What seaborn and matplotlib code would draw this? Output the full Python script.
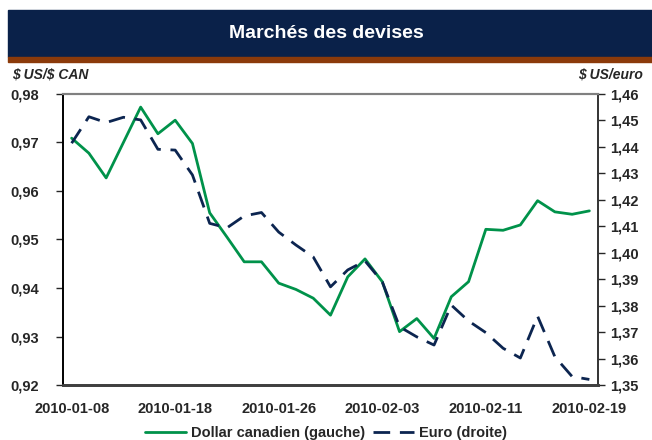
import pandas as pd
import numpy as np
import seaborn as sns
import matplotlib.pyplot as plt
from matplotlib.patches import Rectangle
from matplotlib.ticker import FuncFormatter, FixedLocator

# business days shown on the chart
dates = ["2010-01-08",
         "2010-01-11", "2010-01-12", "2010-01-13", "2010-01-14", "2010-01-15",
         "2010-01-18", "2010-01-19", "2010-01-20", "2010-01-21", "2010-01-22",
         "2010-01-25", "2010-01-26", "2010-01-27", "2010-01-28", "2010-01-29",
         "2010-02-01", "2010-02-02", "2010-02-03", "2010-02-04", "2010-02-05",
         "2010-02-08", "2010-02-09", "2010-02-10", "2010-02-11", "2010-02-12",
         "2010-02-15", "2010-02-16", "2010-02-17", "2010-02-18", "2010-02-19"]

cad = [0.9709, 0.9678, 0.9627, 0.9700, 0.9773, 0.9718, 0.9746, 0.9698,
       0.9555, 0.9505, 0.9454, 0.9454, 0.9410, 0.9397, 0.9379, 0.9344,
       0.9423, 0.9460, 0.9413, 0.9310, 0.9337, 0.9296, 0.9382, 0.9413,
       0.9521, 0.9519, 0.9530, 0.9580, 0.9557, 0.9552, 0.9559]

eur = [1.4414, 1.4514, 1.4492, 1.4512, 1.4502, 1.4391, 1.4388, 1.4294,
       1.4111, 1.4094, 1.4139, 1.4152, 1.4078, 1.4029, 1.3984, 1.3871,
       1.3935, 1.3969, 1.3890, 1.3720, 1.3682, 1.3651, 1.3802, 1.3742,
       1.3698, 1.3639, 1.3602, 1.3760, 1.3607, 1.3532, 1.3521]

label_dates = ["2010-01-08", "2010-01-18", "2010-01-26",
               "2010-02-03", "2010-02-11", "2010-02-19"]

GREEN = "#00924A"
NAVY = "#0C2550"

sns.set_style("white")
plt.rcParams["font.family"] = ["Liberation Sans", "DejaVu Sans"]

df = pd.DataFrame({"pos": np.arange(len(dates)), "date": dates,
                   "cad": cad, "eur": eur})

fig = plt.figure(figsize=(6.52, 4.4), dpi=100)
ax = fig.add_axes([63 / 652, 1 - 385 / 440, 535 / 652, 291 / 440])
ax2 = ax.twinx()

sns.lineplot(data=df, x="pos", y="cad", ax=ax, color=GREEN, lw=2,
             label="Dollar canadien (gauche)", legend=False)
sns.lineplot(data=df, x="pos", y="eur", ax=ax2, color=NAVY, lw=2,
             label="Euro (droite)", legend=False)
ax2.lines[0].set_dashes([6, 3.5])

ax.set_xlim(-0.5, len(dates) - 0.5)
ax.set_ylim(0.92, 0.98)
ax2.set_ylim(1.35, 1.46)
ax.set_yticks(np.arange(0.92, 0.9801, 0.01))
ax2.set_yticks(np.arange(1.35, 1.4601, 0.01))

comma = FuncFormatter(lambda v, p: f"{v:.2f}".replace(".", ","))
ax.yaxis.set_major_formatter(comma)
ax2.yaxis.set_major_formatter(comma)

xpos = [dates.index(d) for d in label_dates]
ax.xaxis.set_major_locator(FixedLocator(xpos))
ax.set_xticklabels(label_dates)

ax.set_xlabel("")
ax.set_ylabel("")
ax2.set_ylabel("")

ax.tick_params(axis="x", length=0, pad=12, labelsize=10.5)
ax.tick_params(axis="y", left=True, length=5, width=1, pad=12, labelsize=10.5)
ax2.tick_params(axis="y", right=True, length=5, width=1, pad=4, labelsize=10.5)
for lab in ax.get_xticklabels() + ax.get_yticklabels() + ax2.get_yticklabels():
    lab.set_fontweight("bold")

for a in (ax, ax2):
    a.spines["left"].set_color("black")
    a.spines["right"].set_color("#333333")
    a.spines["top"].set_color("#808080")
    a.spines["bottom"].set_color("#404040")
    a.spines["top"].set_linewidth(1.5)
    a.spines["bottom"].set_linewidth(2)
    a.spines["left"].set_linewidth(1.2)
    a.spines["right"].set_linewidth(1.2)

# title banner
fig.patches.append(Rectangle((8 / 652, 1 - 57 / 440), 1, 47 / 440,
                             transform=fig.transFigure, color="#0A2149", zorder=0))
fig.patches.append(Rectangle((8 / 652, 1 - 62 / 440), 1, 5 / 440,
                             transform=fig.transFigure, color="#8B3A0A", zorder=0))
fig.text(0.5, 1 - 34 / 440, "Marchés des devises", color="white",
         fontsize=14, fontweight="bold", ha="center", va="center")

fig.text(12 / 652, 1 - 75 / 440, r"\$ US/\$ CAN", fontsize=10,
         fontweight="bold", fontstyle="italic", ha="left", va="center")
fig.text(643 / 652, 1 - 75 / 440, r"\$ US/euro", fontsize=10,
         fontweight="bold", fontstyle="italic", ha="right", va="center")

h1, l1 = ax.get_legend_handles_labels()
h2, l2 = ax2.get_legend_handles_labels()
leg = fig.legend(h1 + h2, l1 + l2, loc="center", bbox_to_anchor=(0.5, 1 - 433 / 440),
                 ncol=2, frameon=False, prop={"weight": "bold", "size": 10.5},
                 handlelength=2.8, columnspacing=0.6, handletextpad=0.3)

fig.savefig("out.png", dpi=100)
